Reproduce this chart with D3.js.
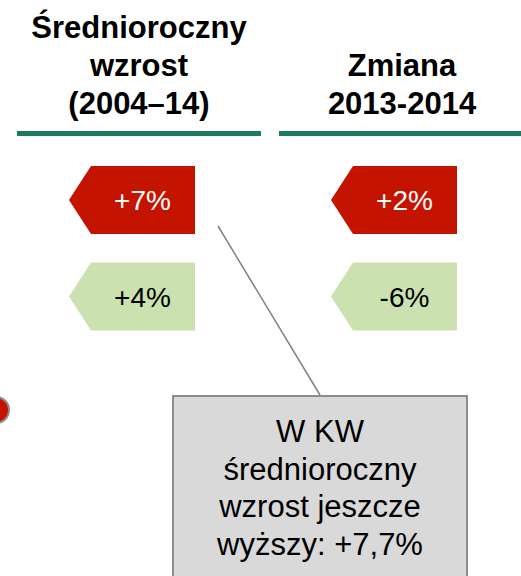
<!DOCTYPE html>
<html>
<head>
<meta charset="utf-8">
<script src="https://cdn.jsdelivr.net/npm/d3@7"></script>
<style>
  html, body { margin: 0; padding: 0; background: #fff; }
  svg { display: block; font-family: Arial, "Liberation Sans", sans-serif; }
</style>
</head>
<body>
<div id="chart"></div>
<script>
  // dane
  var columns = ['avg', 'chg'];
  var headerLines = [
    ['Średnioroczny', 'wzrost', '(2004–14)'],
    ['Zmiana', '2013-2014']
  ];
  var rows = ['red', 'green'];
  var redLabels = ['+7%', '+2%'];
  var greenLabels = ['+4%', '-6%'];
  var calloutLines = ['W KW', 'średnioroczny', 'wzrost jeszcze', 'wyższy: +7,7%'];

  var ROW_COLORS = { red: '#c41400', green: '#cbe2b0' };
  var TEXT_COLORS = { red: '#ffffff', green: '#000000' };

  var width = 521, height = 576;
  var svg = d3.select('#chart').append('svg')
    .attr('width', width).attr('height', height);

  var x = d3.scalePoint().domain(columns).range([139, 401]);
  var y = d3.scalePoint().domain(rows).range([200, 296.5]);

  // nagłówki
  var lineH = 37.8;
  columns.forEach(function (c, i) {
    var lines = headerLines[i];
    svg.append('text')
      .attr('text-anchor', 'middle')
      .attr('font-size', 31)
      .attr('font-weight', 'bold')
      .attr('fill', '#000')
      .selectAll('tspan')
      .data(lines)
      .join('tspan')
      .attr('x', x(c) + (i === 1 ? 1 : 0))
      .attr('y', function (d, j) { return 113.5 - (lines.length - 1 - j) * lineH; })
      .text(function (d) { return d; });

    svg.append('line')
      .attr('x1', x(c) - 122).attr('x2', x(c) + 122)
      .attr('y1', 133.5).attr('y2', 133.5)
      .attr('stroke', '#1b7b5a')
      .attr('stroke-width', 5);
  });

  // strzałki
  var tagW = 126, tagH = 68, notch = 22;
  function tagPath(cx, cy) {
    var l = cx - tagW / 2, r = cx + tagW / 2;
    return 'M' + l + ',' + cy +
      'L' + (l + notch) + ',' + (cy - tagH / 2) +
      'L' + r + ',' + (cy - tagH / 2) +
      'L' + r + ',' + (cy + tagH / 2) +
      'L' + (l + notch) + ',' + (cy + tagH / 2) + 'Z';
  }

  var tags = [];
  columns.forEach(function (c, i) {
    tags.push({ col: c, row: 'red', label: redLabels[i] });
    tags.push({ col: c, row: 'green', label: greenLabels[i] });
  });

  var tg = svg.append('g').selectAll('g').data(tags).join('g');
  tg.append('path')
    .attr('d', function (d) { return tagPath(x(d.col) - 7, y(d.row)); })
    .attr('fill', function (d) { return ROW_COLORS[d.row]; });
  tg.append('text')
    .attr('x', function (d) { return x(d.col) - 7 + notch / 2 - 0.5; })
    .attr('y', function (d) { return y(d.row); })
    .attr('dy', '0.37em')
    .attr('text-anchor', 'middle')
    .attr('font-size', 28)
    .attr('fill', function (d) { return TEXT_COLORS[d.row]; })
    .text(function (d) { return d.label; });

  // kółko przy lewej krawędzi
  svg.append('circle')
    .attr('cx', -4).attr('cy', 410).attr('r', 13)
    .attr('fill', '#c41400')
    .attr('stroke', '#8c8c8c').attr('stroke-width', 2);

  // linia do dymka
  svg.append('line')
    .attr('x1', 218).attr('y1', 226)
    .attr('x2', 320).attr('y2', 395)
    .attr('stroke', '#808080').attr('stroke-width', 1.5);

  // dymek
  svg.append('rect')
    .attr('x', 173).attr('y', 396)
    .attr('width', 294).attr('height', 200)
    .attr('fill', '#d9d9d9')
    .attr('stroke', '#8c8c8c').attr('stroke-width', 2);

  svg.append('text')
    .attr('text-anchor', 'middle')
    .attr('font-size', 31)
    .attr('fill', '#000')
    .selectAll('tspan')
    .data(calloutLines)
    .join('tspan')
    .attr('x', 320)
    .attr('y', function (d, i) { return 442 + i * 37.7; })
    .text(function (d) { return d; });
</script>
</body>
</html>
